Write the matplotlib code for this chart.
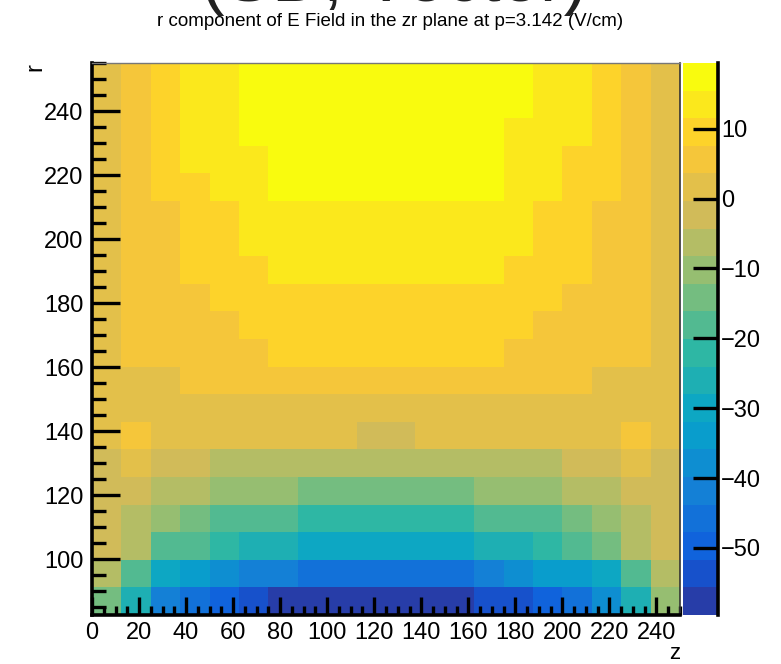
import matplotlib
matplotlib.use('Agg')
import matplotlib.pyplot as plt
import numpy as np
from matplotlib.colors import LinearSegmentedColormap, ListedColormap, BoundaryNorm
from matplotlib.ticker import MultipleLocator

plt.rcParams['font.family'] = ['Liberation Sans', 'DejaVu Sans']

# Histogram binning (z along x, r along y)
z_edges = np.linspace(0, 250, 21)
r_edges = np.linspace(82.6, 255.0, 21)

# E_r in V/cm, one row per r bin (lowest r first), 20 z bins per row
er_values = [
    [-14.2, -26.0, -41.8, -45.8, -49.7, -53.7, -57.6, -58.3, -58.9, -59.2, -58.9, -58.3, -57.6, -53.7, -53.7, -49.7, -45.8, -37.9, -26.0, -10.2],
    [-6.3, -18.1, -30.0, -33.9, -37.9, -41.8, -42.6, -45.8, -46.7, -47.1, -47.1, -46.7, -45.8, -42.6, -37.9, -33.9, -33.9, -30.0, -18.1, -6.3],
    [-2.3, -6.3, -18.1, -18.1, -22.1, -26.0, -26.0, -30.0, -30.6, -31.0, -31.0, -30.6, -30.0, -26.0, -26.0, -22.1, -18.1, -14.2, -6.3, -2.3],
    [-2.3, -6.3, -10.2, -14.2, -18.1, -18.1, -18.1, -22.1, -22.1, -22.1, -22.1, -22.1, -22.1, -18.1, -18.1, -18.1, -14.2, -10.2, -6.3, -2.3],
    [-2.3, -2.3, -6.3, -6.3, -10.2, -10.2, -10.2, -14.2, -14.2, -14.2, -14.2, -14.2, -14.2, -10.2, -10.2, -10.2, -6.3, -6.3, -2.3, -2.3],
    [-2.3, 1.6, -2.3, -2.3, -6.3, -6.3, -6.3, -6.3, -6.3, -6.3, -6.3, -6.3, -6.3, -6.3, -6.3, -6.3, -2.3, -2.3, 1.6, -2.3],
    [1.6, 5.6, 1.6, 1.6, 1.6, 1.6, 1.6, 1.6, 1.6, -2.3, -2.3, 1.6, 1.6, 1.6, 1.6, 1.6, 1.6, 1.6, 5.6, 1.6],
    [1.6, 1.6, 1.6, 1.6, 1.6, 1.6, 1.6, 1.6, 1.6, 1.6, 1.6, 1.6, 1.6, 1.6, 1.6, 1.6, 1.6, 1.6, 1.6, 1.6],
    [1.6, 1.6, 1.6, 5.6, 5.6, 5.6, 5.6, 5.6, 5.6, 5.6, 5.6, 5.6, 5.6, 5.6, 5.6, 5.6, 5.6, 1.6, 1.6, 1.6],
    [1.6, 5.6, 5.6, 5.6, 5.6, 5.6, 9.5, 9.5, 9.5, 9.5, 9.5, 9.5, 9.5, 9.5, 5.6, 5.6, 5.6, 5.6, 5.6, 1.6],
    [1.6, 5.6, 5.6, 5.6, 5.6, 9.5, 9.5, 9.5, 9.5, 9.5, 9.5, 9.5, 9.5, 9.5, 9.5, 5.6, 5.6, 5.6, 5.6, 1.6],
    [1.6, 5.6, 5.6, 5.6, 9.5, 9.5, 9.5, 9.5, 9.5, 9.5, 9.5, 9.5, 9.5, 9.5, 9.5, 9.5, 5.6, 5.6, 5.6, 1.6],
    [1.6, 5.6, 5.6, 9.5, 9.5, 9.5, 13.5, 13.5, 13.5, 13.5, 13.5, 13.5, 13.5, 13.5, 9.5, 9.5, 9.5, 5.6, 5.6, 1.6],
    [1.6, 5.6, 5.6, 9.5, 9.5, 13.5, 13.5, 13.5, 13.5, 13.5, 13.5, 13.5, 13.5, 13.5, 13.5, 9.5, 9.5, 5.6, 5.6, 1.6],
    [1.6, 5.6, 5.6, 9.5, 9.5, 13.5, 13.5, 13.5, 13.5, 13.5, 13.5, 13.5, 13.5, 13.5, 13.5, 9.5, 9.5, 5.6, 5.6, 1.6],
    [1.6, 5.6, 9.5, 9.5, 13.5, 13.5, 17.4, 17.4, 17.4, 17.4, 17.4, 17.4, 17.4, 17.4, 13.5, 13.5, 9.5, 9.5, 5.6, 1.6],
    [1.6, 5.6, 9.5, 13.5, 13.5, 13.5, 17.4, 17.4, 17.4, 17.4, 17.4, 17.4, 17.4, 17.4, 13.5, 13.5, 9.5, 9.5, 5.6, 1.6],
    [1.6, 5.6, 9.5, 13.5, 13.5, 17.4, 17.4, 17.4, 17.4, 17.4, 17.4, 17.4, 17.4, 17.4, 13.5, 13.5, 13.5, 9.5, 5.6, 1.6],
    [1.6, 5.6, 9.5, 13.5, 13.5, 17.4, 17.4, 17.4, 17.4, 17.4, 17.4, 17.4, 17.4, 17.4, 17.4, 13.5, 13.5, 9.5, 5.6, 1.6],
    [1.6, 5.6, 9.5, 13.5, 13.5, 17.4, 17.4, 17.4, 17.4, 17.4, 17.4, 17.4, 17.4, 17.4, 17.4, 13.5, 13.5, 9.5, 5.6, 1.6],
]

z_min, z_max = -59.6, 19.4
n_contours = 20
x_ticks = [0, 20, 40, 60, 80, 100, 120, 140, 160, 180, 200, 220, 240]
y_ticks = [100, 120, 140, 160, 180, 200, 220, 240]
cbar_ticks = [-50, -40, -30, -20, -10, 0, 10]
title = 'r component of E Field in the zr plane at p=3.142 (V/cm)'

# ROOT kBird palette, sampled the way THistPainter picks contour colours
stops = [0.0, 0.125, 0.25, 0.375, 0.5, 0.625, 0.75, 0.875, 1.0]
red = [0.2082, 0.0592, 0.0780, 0.0232, 0.1802, 0.5301, 0.8186, 0.9956, 0.9764]
green = [0.1664, 0.3599, 0.5041, 0.6419, 0.7178, 0.7492, 0.7328, 0.7862, 0.9832]
blue = [0.5293, 0.8684, 0.8385, 0.7914, 0.6425, 0.4662, 0.3499, 0.1968, 0.0539]
bird = LinearSegmentedColormap.from_list(
    'bird', [(s, (r, g, b)) for s, r, g, b in zip(stops, red, green, blue)], N=255)
idx = [min(int((i + 0.99) * 255 / n_contours), 254) for i in range(n_contours)]
cmap = ListedColormap([bird(k / 254) for k in idx])
levels = np.linspace(z_min, z_max, n_contours + 1)
norm = BoundaryNorm(levels, cmap.N)

W, H = 781, 664
fig = plt.figure(figsize=(W / 100, H / 100), dpi=100)
ax = fig.add_axes([92 / W, 1 - 615 / H, 588 / W, 552 / H])

mesh = ax.pcolormesh(z_edges, r_edges, np.array(er_values), cmap=cmap, norm=norm)
ax.set_xlim(z_edges[0], z_edges[-1])
ax.set_ylim(r_edges[0], r_edges[-1])

ax.set_xticks(x_ticks)
ax.set_yticks(y_ticks)
ax.xaxis.set_minor_locator(MultipleLocator(5))
ax.yaxis.set_minor_locator(MultipleLocator(5))
ax.tick_params(axis='y', which='major', direction='in', length=20, width=2.4,
               labelsize=17, pad=6)
ax.tick_params(axis='y', which='minor', direction='in', length=10, width=2.4)
ax.tick_params(axis='x', which='major', direction='in', length=13, width=2.4,
               labelsize=17, pad=5)
ax.tick_params(axis='x', which='minor', direction='in', length=6.5, width=2.4)

for side in ['left', 'bottom']:
    ax.spines[side].set_linewidth(2.6)
ax.spines['top'].set_linewidth(1.0)
ax.spines['top'].set_color('#777777')
ax.spines['right'].set_linewidth(1.2)
ax.spines['right'].set_color('#333333')

# colour scale on the right
cax = fig.add_axes([683 / W, 1 - 615 / H, 35 / W, 552 / H])
cb = fig.colorbar(mesh, cax=cax, ticks=cbar_ticks)
cb.outline.set_visible(False)
cb.minorticks_off()
cax.tick_params(direction='in', length=18, width=2.4, labelsize=17, pad=2)
cax.plot([1, 1], [0, 1], transform=cax.transAxes, color='black', lw=2.6, clip_on=False)

fig.text(0.5, 1 - 22 / H, title, ha='center', va='center', fontsize=13.5)
fig.text(0.505, 1 - 1 / H, '(SD, Vector)', ha='center', va='baseline', fontsize=51,
         color='#222222')
fig.text(35 / W, 1 - 63 / H, 'r', rotation=90, ha='center', va='top', fontsize=17)
fig.text(680 / W, 1 - 659 / H, 'z', ha='right', va='baseline', fontsize=16)

fig.savefig('out.png', dpi=100)
